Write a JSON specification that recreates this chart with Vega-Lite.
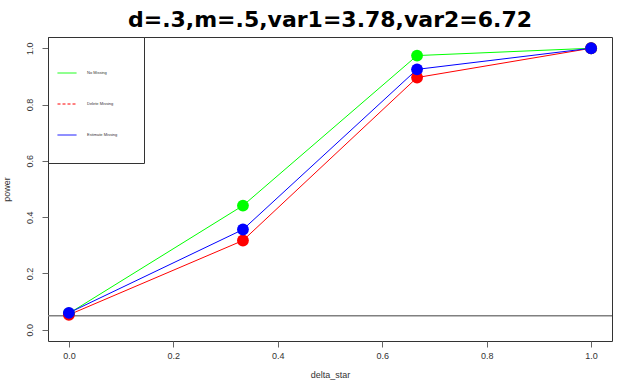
{
  "$schema": "https://vega.github.io/schema/vega-lite/v6.json",
  "width": 564,
  "height": 304,
  "autosize": {"type": "none"},
  "padding": {"left": 48, "top": 37, "right": 25, "bottom": 47},
  "background": "white",
  "title": {
    "text": "d=.3,m=.5,var1=3.78,var2=6.72",
    "font": "DejaVu Sans",
    "fontSize": 22,
    "fontWeight": "bold",
    "color": "black",
    "anchor": "middle",
    "frame": "group",
    "baseline": "bottom",
    "offset": -17
  },
  "datasets": {
    "power": [
      {"method": "No Missing", "delta_star": 0, "power": 0.058},
      {"method": "No Missing", "delta_star": 0.3333, "power": 0.441},
      {"method": "No Missing", "delta_star": 0.6667, "power": 0.974},
      {"method": "No Missing", "delta_star": 1, "power": 1.0},
      {"method": "Delete Missing", "delta_star": 0, "power": 0.053},
      {"method": "Delete Missing", "delta_star": 0.3333, "power": 0.317},
      {"method": "Delete Missing", "delta_star": 0.6667, "power": 0.896},
      {"method": "Delete Missing", "delta_star": 1, "power": 1.0},
      {"method": "Estimate Missing", "delta_star": 0, "power": 0.06},
      {"method": "Estimate Missing", "delta_star": 0.3333, "power": 0.356},
      {"method": "Estimate Missing", "delta_star": 0.6667, "power": 0.925},
      {"method": "Estimate Missing", "delta_star": 1, "power": 1.0}
    ],
    "ref": [{"alpha": 0.05}]
  },
  "config": {
    "view": {"stroke": "#333333", "strokeWidth": 1},
    "axis": {
      "grid": false,
      "domain": false,
      "labelFont": "Liberation Sans",
      "labelFontSize": 9,
      "labelColor": "#333333",
      "titleFont": "Liberation Sans",
      "titleFontSize": 9,
      "titleFontWeight": "normal",
      "titleColor": "#333333",
      "tickColor": "#666666",
      "tickSize": 6,
      "tickWidth": 1
    },
    "legend": {
      "orient": "none",
      "legendX": 0,
      "legendY": 0,
      "strokeColor": "#333333",
      "fillColor": "white",
      "padding": 26,
      "symbolType": "stroke",
      "symbolSize": 361,
      "symbolStrokeWidth": 1,
      "symbolOffset": -17,
      "labelOffset": 10,
      "labelFont": "Liberation Sans",
      "labelFontSize": 4,
      "labelColor": "#333333",
      "rowPadding": 19
    }
  },
  "encoding": {
    "x": {
      "field": "delta_star",
      "type": "quantitative",
      "scale": {"domain": [-0.04, 1.04], "nice": false, "zero": false},
      "axis": {
        "title": "delta_star",
        "values": [0, 0.2, 0.4, 0.6, 0.8, 1.0],
        "format": ".1f",
        "labelPadding": 4,
        "titlePadding": 10
      }
    },
    "y": {
      "field": "power",
      "type": "quantitative",
      "scale": {"domain": [-0.04, 1.04], "nice": false, "zero": false},
      "axis": {
        "title": "power",
        "values": [0, 0.2, 0.4, 0.6, 0.8, 1.0],
        "format": ".1f",
        "labelAngle": -90,
        "labelAlign": "center",
        "labelBaseline": "bottom",
        "labelPadding": 8,
        "titlePadding": 14
      }
    }
  },
  "layer": [
    {
      "data": {"name": "ref"},
      "mark": {"type": "rule", "color": "#808080", "strokeWidth": 1.5},
      "encoding": {
        "x": null,
        "y": {"field": "alpha", "type": "quantitative"}
      }
    },
    {
      "data": {"name": "power"},
      "mark": {"type": "line", "strokeWidth": 1},
      "encoding": {
        "color": {
          "field": "method",
          "type": "nominal",
          "sort": ["No Missing", "Delete Missing", "Estimate Missing"],
          "scale": {
            "domain": ["No Missing", "Delete Missing", "Estimate Missing"],
            "range": ["#00ff00", "#ff0000", "#0000ff"]
          },
          "legend": {
            "title": null,
            "encode": {
              "symbols": {
                "update": {
                  "strokeDash": {"signal": "datum.label === 'Delete Missing' ? [3, 2] : [1, 0]"}
                }
              }
            }
          }
        },
        "order": {"field": "delta_star"}
      }
    },
    {
      "data": {"name": "power"},
      "mark": {"type": "circle", "size": 140, "opacity": 1},
      "encoding": {
        "fill": {
          "field": "method",
          "type": "nominal",
          "scale": {
            "domain": ["No Missing", "Delete Missing", "Estimate Missing"],
            "range": ["#00ff00", "#ff0000", "#0000ff"]
          },
          "legend": null
        }
      }
    }
  ]
}
